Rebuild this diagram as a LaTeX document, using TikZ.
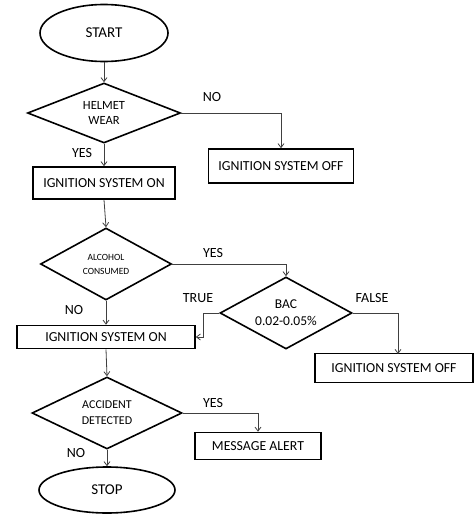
\documentclass[tikz,border=0pt]{standalone}
\usepackage{fontspec}
\setmainfont{Carlito}
\usetikzlibrary{shapes.geometric,arrows.meta}
\begin{document}
\begin{tikzpicture}[x=1pt,y=-1pt,
  box/.style={draw=black,line width=1.6pt,rectangle,inner sep=0pt,font=\fontsize{13.8}{15}\selectfont},
  dec/.style={draw=black,line width=1.6pt,diamond,aspect=1.9,inner sep=-4pt,align=center},
  term/.style={draw=black,line width=1.6pt,ellipse,inner sep=0pt,font=\fontsize{15}{17}\selectfont},
  conn/.style={draw=black!75,line width=0.8pt,-{Straight Barb[length=4pt,width=6pt]}},
  lbl/.style={font=\fontsize{14}{16}\selectfont,inner sep=0pt}]
\useasboundingbox (0,0) rectangle (475,514);
\node[term,minimum width=128,minimum height=57] (start) at (104,33) {START};
\node[dec,minimum width=153,minimum height=60,font=\fontsize{12.5}{15}\selectfont] (helmet) at (104,113) {HELMET\\WEAR};
\node[box,minimum width=142,minimum height=32] (on1) at (104,183) {IGNITION SYSTEM ON};
\node[box,minimum width=145,minimum height=34] (off1) at (281,166) {IGNITION SYSTEM OFF};
\node[dec,minimum width=131,minimum height=72,font=\fontsize{9.5}{14}\selectfont] (alcohol) at (106,264) {ALCOHOL\\CONSUMED};
\node[dec,minimum width=132,minimum height=72,font=\fontsize{13.5}{17}\selectfont] (bac) at (286,313) {BAC\\0.02-0.05\%};
\node[box,minimum width=178,minimum height=23] (on2) at (106,337) {IGNITION SYSTEM ON};
\node[box,minimum width=158,minimum height=29] (off2) at (394,368) {IGNITION SYSTEM OFF};
\node[dec,minimum width=150,minimum height=72,font=\fontsize{12}{16}\selectfont] (accident) at (107,413) {ACCIDENT\\DETECTED};
\node[box,minimum width=126,minimum height=27] (msg) at (258,446) {MESSAGE ALERT};
\node[term,minimum width=136,minimum height=46] (stop) at (107,490) {STOP};
\coordinate (tbend) at (203,313);
\coordinate (tturn) at (203,337);
\coordinate (ftop) at (398,354);
\draw[conn] (start) -- (helmet);
\draw[conn] (helmet) -- (on1);
\draw[conn] (helmet.east) -| (off1.north);
\draw[conn] (on1.south) -- (alcohol.north);
\draw[conn] (alcohol.east) -| (bac.north);
\draw[conn] (alcohol.south) -- (on2.north);
\draw[conn] (bac.west) -- (tbend) -- (tturn) -- (on2.east);
\draw[conn] (bac.east) -| (ftop);
\draw[conn] (on2.south) -- (accident.north);
\draw[conn] (accident.east) -| (msg.north);
\draw[conn] (accident.south) -- (stop.north);
\node[lbl] (l1) at (212,97) {NO};
\node[lbl] (l2) at (82,153) {YES};
\node[lbl] (l3) at (213,253) {YES};
\node[lbl] (l4) at (198,298) {TRUE};
\node[lbl] (l5) at (372,298) {FALSE};
\node[lbl] (l6) at (74,310) {NO};
\node[lbl] (l7) at (213,403) {YES};
\node[lbl] (l8) at (76,453) {NO};
\end{tikzpicture}
\end{document}
